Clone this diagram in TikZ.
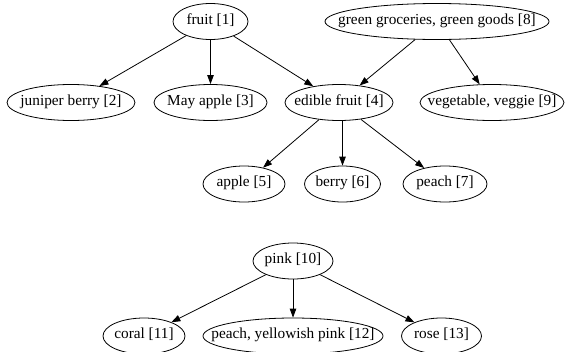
\documentclass[tikz,border=0pt]{standalone}
\usepackage{fontspec}
\setmainfont{Liberation Serif}
\usetikzlibrary{shapes.geometric,arrows.meta}
\newcommand{\zlbl}[1]{\makebox[0pt]{#1}}
\begin{document}
\begin{tikzpicture}[x=1pt,y=-1pt,
  nd/.style={ellipse,draw,line width=0.8pt,inner sep=0pt,minimum height=36pt,
    text height=7.5pt,text depth=2.5pt,font=\fontsize{15.3}{17}\selectfont},
  ed/.style={draw,line width=0.8pt,-{Triangle[length=9pt,width=6.5pt]}}]
\useasboundingbox (0,0) rectangle (569,351);
\node[nd,minimum width=75pt] (n1) at (210.5,21.5) {\zlbl{fruit [1]}};
\node[nd,minimum width=224pt] (n8) at (437,21.5) {\zlbl{green groceries, green goods [8]}};
\node[nd,minimum width=128pt] (n2) at (71,102.5) {\zlbl{juniper berry [2]}};
\node[nd,minimum width=113pt] (n3) at (210.5,102.5) {\zlbl{May apple [3]}};
\node[nd,minimum width=108pt] (n4) at (339,102.5) {\zlbl{edible fruit [4]}};
\node[nd,minimum width=144pt] (n9) at (492,102.5) {\zlbl{vegetable, veggie [9]}};
\node[nd,minimum width=82pt] (n5) at (244,184) {\zlbl{apple [5]}};
\node[nd,minimum width=76pt] (n6) at (342.5,184) {\zlbl{berry [6]}};
\node[nd,minimum width=84pt] (n7) at (445,184) {\zlbl{peach [7]}};
\node[nd,minimum width=80pt] (n10) at (293,261) {\zlbl{pink [10]}};
\node[nd,minimum width=82pt] (n11) at (144,336) {\zlbl{coral [11]}};
\node[nd,minimum width=180pt] (n12) at (293,336) {\zlbl{peach, yellowish pink [12]}};
\node[nd,minimum width=80pt] (n13) at (441.5,336) {\zlbl{rose [13]}};
\path[ed] (n1) -- (n2);
\path[ed] (n1) -- (n3);
\path[ed] (n1) -- (n4);
\path[ed] (n8) -- (n4);
\path[ed] (n8) -- (n9);
\path[ed] (n4) -- (n5);
\path[ed] (n4.south -| n6.north) -- (n6.north);
\path[ed] (n4) -- (n7);
\path[ed] (n10) -- (n11);
\path[ed] (n10) -- (n12);
\path[ed] (n10) -- (n13);
\end{tikzpicture}
\end{document}
